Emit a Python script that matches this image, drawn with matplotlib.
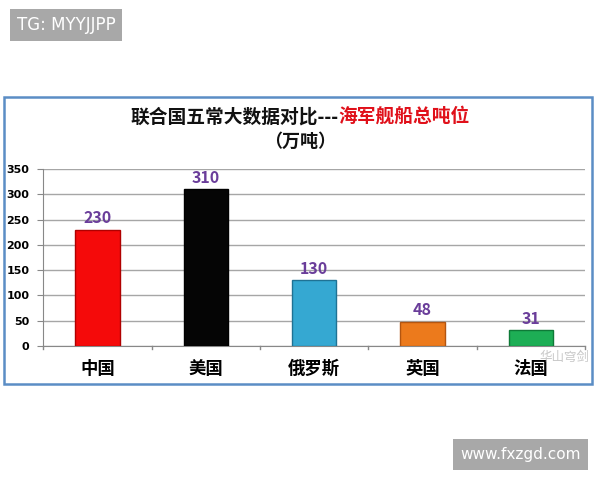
import matplotlib
matplotlib.use("Agg")
import matplotlib.pyplot as plt
from matplotlib.patches import Rectangle

plt.rcParams['font.family'] = ['Noto Sans CJK SC', 'DejaVu Sans']

# data
countries = ['中国', '美国', '俄罗斯', '英国', '法国']
tonnage = [230, 310, 130, 48, 31]
bar_colors = ['#F50A0A', '#050505', '#35A8D2', '#EC7A1C', '#1DAE55']
edge_colors = ['#B00000', '#000000', '#1F7294', '#B35510', '#0E7A37']
yticks = [0, 50, 100, 150, 200, 250, 300, 350]

fig = plt.figure(figsize=(6, 4.8), dpi=100)

# blue frame of the chart
fig.patches.append(Rectangle((0.006, 0.2), 0.981, 0.598, transform=fig.transFigure,
                             fill=False, edgecolor='#5B8DC5', linewidth=1.8))

ax = fig.add_axes([0.072, 0.279, 0.903, 0.369])
x = range(len(countries))
ax.bar(x, tonnage, width=0.41, color=bar_colors, edgecolor=edge_colors, linewidth=1.0, zorder=3)
for xi, v in zip(x, tonnage):
    ax.text(xi, v + 7, str(v), ha='center', va='bottom', color='#6A3D9A',
            fontsize=11.5, fontweight='bold')

ax.set_xlim(-0.5, len(countries) - 0.5)
ax.set_ylim(0, 350)
ax.set_yticks(yticks)
ax.set_yticklabels([str(t) for t in yticks], fontsize=8, fontweight='bold', family='DejaVu Sans')
ax.yaxis.grid(True, color='#A6A6A6', linewidth=1.0, zorder=0)
ax.set_xticks(list(x))
ax.set_xticklabels(countries, fontsize=12.5, fontweight='bold')
ax.tick_params(axis='x', length=0, pad=10)
ax.tick_params(axis='y', length=4, color='#888888', pad=6)
# boundary ticks between categories
for b in [i + 0.5 for i in range(-1, len(countries))]:
    ax.plot([b, b], [0, -6], color='#888888', linewidth=1, clip_on=False)
for s in ['top', 'right']:
    ax.spines[s].set_visible(False)
ax.spines['left'].set_color('#888888')
ax.spines['bottom'].set_color('#888888')

# title: black part + red part
fig.canvas.draw()
r = fig.canvas.get_renderer()
t1 = fig.text(0, 0.757, '联合国五常大数据对比---', fontsize=13.5, fontweight='bold', color='#111111', va='center')
t2 = fig.text(0, 0.757, '海军舰船总吨位', fontsize=13.5, fontweight='bold', color='#E0101A', va='center')
w1 = t1.get_window_extent(r).width / fig.bbox.width
w2 = t2.get_window_extent(r).width / fig.bbox.width
start = 0.5 - (w1 + w2) / 2
t1.set_x(start)
t2.set_x(start + w1)
fig.text(0.5, 0.706, '（万吨）', fontsize=13, fontweight='bold', color='#111111', ha='center', va='center')

# watermarks
fig.text(0.028, 0.948, 'TG: MYYJJPP', fontsize=12, color='white', va='center', family='DejaVu Sans',
         bbox=dict(boxstyle='square,pad=0.4', facecolor='#A8A8A8', edgecolor='none'))
fig.text(0.767, 0.053, 'www.fxzgd.com', fontsize=11, color='white', va='center', family='DejaVu Sans',
         bbox=dict(boxstyle='square,pad=0.5', facecolor='#A8A8A8', edgecolor='none'))
fig.text(0.94, 0.256, '华山穹剑', fontsize=9, color='#BBBBBB', ha='center', va='center', alpha=0.8)

fig.savefig('out.png', dpi=100)
